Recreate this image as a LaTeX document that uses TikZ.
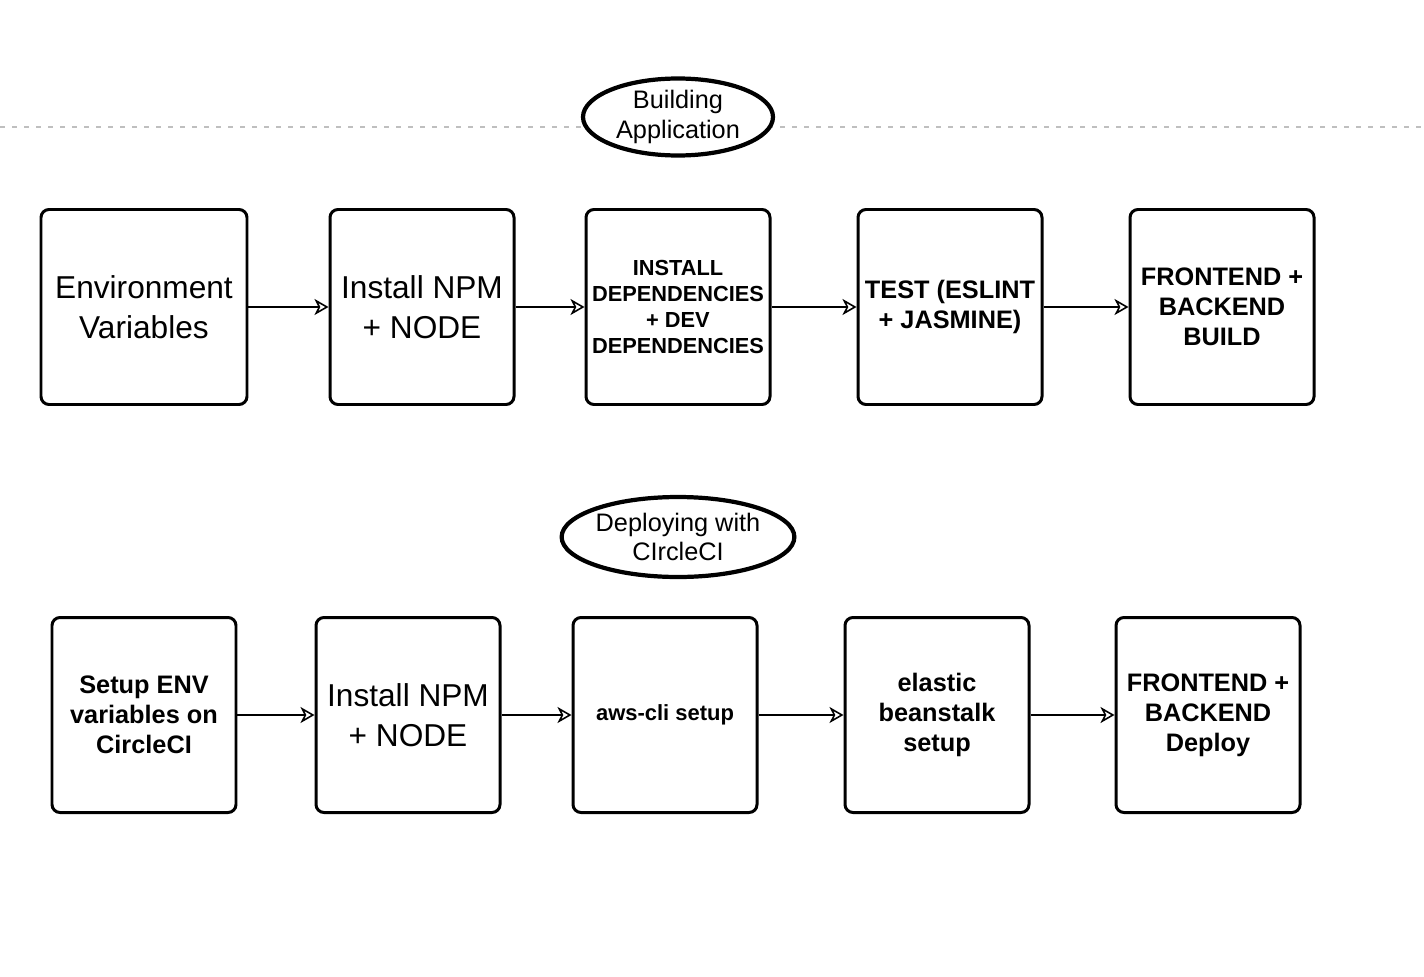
\documentclass[tikz,border=0pt]{standalone}
\usepackage{fontspec}
\setmainfont{Liberation Sans}
\usetikzlibrary{arrows.meta,shapes.geometric}
\begin{document}
\begin{tikzpicture}[>={Stealth[open,length=1.4mm,width=1.6mm,inset=0.4mm]},
every node/.style={align=center},
stepbox/.style={draw,line width=0.85pt,rounded corners=0.08cm,minimum width=1.84cm,minimum height=1.95cm,inner sep=0pt,font=\fontsize{7.2}{8.5}\selectfont\bfseries},
bigtext/.style={font=\fontsize{9}{11.4}\selectfont},
smalltext/.style={font=\fontsize{6.2}{7.4}\selectfont\bfseries},
titleoval/.style={ellipse,draw,line width=1.2pt,fill=white,inner sep=0pt,font=\fontsize{7.2}{8.3}\selectfont},
flowarrow/.style={->,line width=0.45pt}]

\useasboundingbox (0,0) rectangle (14.24,-9.76);

% separator
\coordinate (sepl) at (0,-1.27);
\coordinate (sepr) at (14.24,-1.27);
\draw[gray!50,line width=0.6pt,dash pattern=on 0.05cm off 0.07cm] (sepl) -- (sepr);

% building
\node[titleoval,minimum width=1.9cm,minimum height=0.77cm] (buildtitle) at (6.78,-1.17) {Building\\Application};

\node[stepbox,bigtext,minimum width=2.06cm] (env) at (1.44,-3.07) {Environment\\Variables};
\node[stepbox,bigtext] (npm) at (4.22,-3.07) {Install NPM\\+ NODE};
\node[stepbox,smalltext] (deps) at (6.78,-3.07) {INSTALL\\DEPENDENCIES\\+ DEV\\DEPENDENCIES};
\node[stepbox] (test) at (9.50,-3.07) {TEST (ESLINT\\+ JASMINE)};
\node[stepbox] (build) at (12.22,-3.07) {FRONTEND +\\BACKEND\\BUILD};

\draw[flowarrow] (env) -- (npm);
\draw[flowarrow] (npm) -- (deps);
\draw[flowarrow] (deps) -- (test);
\draw[flowarrow] (test) -- (build);

% deploying
\node[titleoval,minimum width=2.27cm,minimum height=0.8cm] (deploytitle) at (6.78,-5.37) {Deploying with\\CIrcleCI};

\node[stepbox] (envci) at (1.44,-7.15) {Setup ENV\\variables on\\CircleCI};
\node[stepbox,bigtext] (npmci) at (4.08,-7.15) {Install NPM\\+ NODE};
\node[stepbox,font=\fontsize{6.25}{7.4}\selectfont\bfseries] (aws) at (6.65,-7.15) {aws-cli setup};
\node[stepbox] (eb) at (9.37,-7.15) {elastic\\beanstalk\\setup};
\node[stepbox] (deploy) at (12.08,-7.15) {FRONTEND +\\BACKEND\\Deploy};

\draw[flowarrow] (envci) -- (npmci);
\draw[flowarrow] (npmci) -- (aws);
\draw[flowarrow] (aws) -- (eb);
\draw[flowarrow] (eb) -- (deploy);
\end{tikzpicture}
\end{document}
